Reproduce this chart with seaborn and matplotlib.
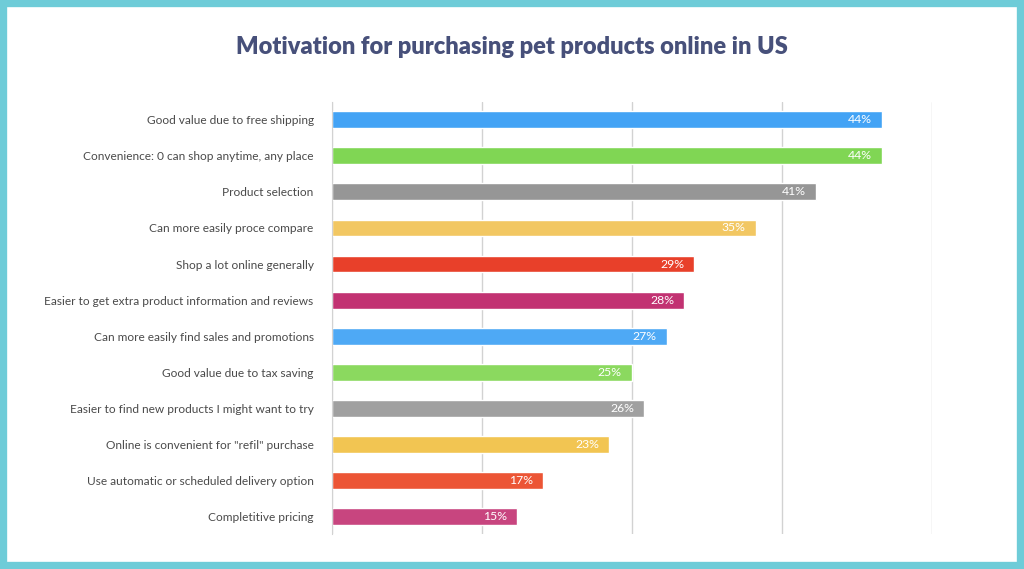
import matplotlib
matplotlib.use("Agg")
import matplotlib.pyplot as plt
import seaborn as sns
import pandas as pd
from matplotlib.patches import Rectangle

categories = [
    "Good value due to free shipping",
    "Convenience: 0 can shop anytime, any place",
    "Product selection",
    "Can more easily proce compare",
    "Shop a lot online generally",
    "Easier to get extra product information and reviews",
    "Can more easily find sales and promotions",
    "Good value due to tax saving",
    "Easier to find new products I might want to try",
    "Online is convenient for \"refil\" purchase",
    "Use automatic or scheduled delivery option",
    "Completitive pricing",
]
# bar lengths as drawn in the picture
values = [44, 44, 38.7, 33.9, 29, 28.2, 26.8, 24, 25, 22.2, 16.9, 14.8]
# printed labels
value_labels = ["44%", "44%", "41%", "35%", "29%", "28%", "27%", "25%", "26%", "23%", "17%", "15%"]
colors = ["#43A3F5", "#80D654", "#969696", "#F2C762", "#E8402A", "#C23272",
          "#4EA9F5", "#8BD95F", "#A0A0A0", "#F2C552", "#EC5535", "#C8457F"]

df = pd.DataFrame({"category": categories, "value": values})

sns.set_style("white")
plt.rcParams["font.family"] = ["Lato", "DejaVu Sans"]

fig = plt.figure(figsize=(10.24, 5.69), dpi=100)
ax = fig.add_axes([0.324, 0.061, 0.586, 0.760])

sns.barplot(data=df, x="value", y="category", hue="category", palette=colors,
            width=0.47, legend=False, ax=ax, saturation=1)

ax.set_xlim(0, 48)
ax.set_ylim(11.5, -0.5)
ax.set_xticks([0, 12, 24, 36, 48])
ax.set_xticklabels([])
ax.tick_params(axis="x", length=0)
ax.tick_params(axis="y", length=0, pad=13, labelsize=8.6, labelcolor="#4a4a4a")
ax.grid(axis="x", color="#d2d2d2", linewidth=1)
ax.set_axisbelow(True)
for s in ["top", "right", "bottom"]:
    ax.spines[s].set_visible(False)
ax.spines["left"].set_color("#d2d2d2")
ax.set_xlabel("")
ax.set_ylabel("")

for i, (v, lab) in enumerate(zip(values, value_labels)):
    ax.text(v - 0.8, i, lab, ha="right", va="center", color="white", fontsize=8.8)

fig.text(0.5, 0.918, "Motivation for purchasing pet products online in US",
         ha="center", va="center", fontsize=17, fontweight="heavy", color="#47507A")

fig.patches.append(Rectangle((0.003, 0.005), 0.994, 0.99, transform=fig.transFigure,
                             fill=False, edgecolor="#6ECCD8", linewidth=6))

fig.savefig("out.png", dpi=100)
